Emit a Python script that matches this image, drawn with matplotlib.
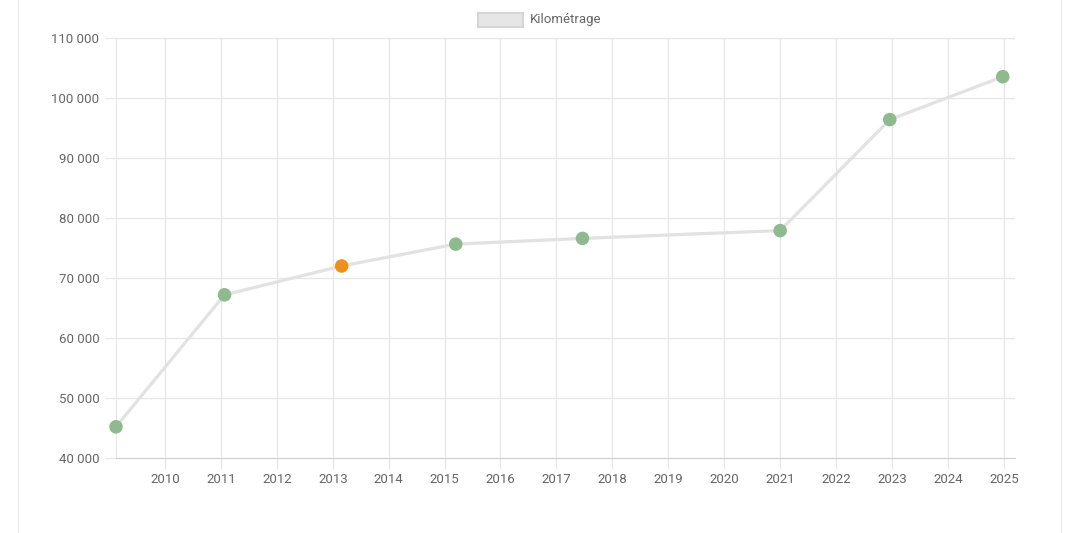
import pandas as pd
import matplotlib.pyplot as plt
import matplotlib.dates as mdates
from matplotlib.patches import Rectangle
from matplotlib.lines import Line2D

plt.rcParams['font.family'] = ['Roboto', 'DejaVu Sans']

# mileage readings
dates = ['2009-02-15', '2011-01-25', '2013-02-28', '2015-03-15',
         '2017-06-20', '2021-01-01', '2022-12-18', '2024-12-25']
km = [45200, 67200, 72000, 75650, 76600, 77900, 96400, 103550]
point_colors = ['#8fb98f', '#8fb98f', '#f0901c', '#8fb98f',
                '#8fb98f', '#8fb98f', '#8fb98f', '#8fb98f']
x_end = '2025-03-15'
y_ticks = [40000, 50000, 60000, 70000, 80000, 90000, 100000, 110000]

d = pd.to_datetime(dates)

W, H = 1079, 533
fig = plt.figure(figsize=(W / 100, H / 100), dpi=100)
ax = fig.add_axes([116 / W, (H - 458) / H, (1015 - 116) / W, (458 - 38) / H])

grid_c = '#e6e6e6'
ax.plot(d, km, color='#e2e2e2', lw=2.3, zorder=2, solid_capstyle='round',
        clip_on=False)
ax.scatter(d, km, c=point_colors, s=95, zorder=3, linewidths=0, clip_on=False)

ax.set_xlim(d[0], pd.Timestamp(x_end))
ax.set_ylim(40000, 110000)
ax.set_yticks(y_ticks)
ax.set_yticklabels([f'{v:,}'.replace(',', ' ') for v in y_ticks])
ax.xaxis.set_major_locator(mdates.YearLocator())
ax.xaxis.set_major_formatter(mdates.DateFormatter('%Y'))

ax.grid(True, color=grid_c, lw=0.9)
ax.set_axisbelow(True)
for s in ['top', 'right']:
    ax.spines[s].set_visible(False)
ax.spines['left'].set_color(grid_c)
ax.spines['bottom'].set_color('#cfcfcf')
ax.tick_params(axis='both', length=8, width=0.9, color=grid_c,
               labelsize=9.5, labelcolor='#666666')
ax.tick_params(axis='x', pad=2.5)
ax.tick_params(axis='y', pad=4)

# legend
fig.patches.append(Rectangle((478 / W, 1 - 27 / H), 45 / W, 14 / H,
                             transform=fig.transFigure, facecolor='#e6e6e6',
                             edgecolor='#d6d6d6', lw=1.5))
fig.text(530 / W, 1 - 19.5 / H, 'Kilométrage', fontsize=9.5, color='#666666',
         va='center', ha='left')

# card border
for xb in [18, 1061]:
    fig.add_artist(Line2D([xb / W, xb / W], [0, 1], color='#ececec', lw=1))

plt.savefig('out.png', dpi=100)
